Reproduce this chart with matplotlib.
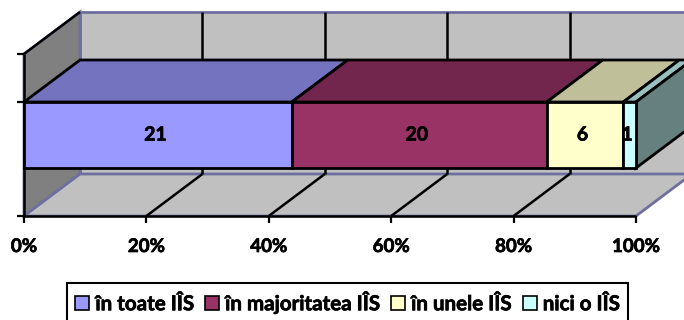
# -*- coding: utf-8 -*-

import numpy as np
from matplotlib import pyplot as plt
from matplotlib import patheffects
from matplotlib.patches import Patch, Polygon

categories = ['în toate IÎS', 'în majoritatea IÎS', 'în unele IÎS', 'nici o IÎS']
values = [21, 20, 6, 1]
ticks_pct = [0, 20, 40, 60, 80, 100]

front_colors = ['#9999ff', '#993366', '#ffffcc', '#ccffff']
top_colors = ['#7373bf', '#73264d', '#bfbf99', '#99bfbf']
side_color = '#668080'
wall_edge = '#6f6f9f'

# oblique projection of the 3D box: x in percent, y and depth in chart units
PX = 6.12
DEPTH_X = 56 / PX
DEPTH_Y = 42
BOX_H = 162
BAR_Y0, BAR_Y1 = 48, 114

# thicken the bold face a little
HEAVY = [patheffects.withStroke(linewidth=0.5, foreground='black')]


def proj(x, y, d=0.0):
    return (x + d * DEPTH_X, y + d * DEPTH_Y)


def face(ax, pts, color, edge='black', lw=2.0, z=1):
    ax.add_patch(Polygon([proj(*p) for p in pts], closed=True, facecolor=color,
                         edgecolor=edge, linewidth=lw, joinstyle='miter', zorder=z))


def line(ax, p, q, color='black', lw=1.8, z=2):
    a, b = proj(*p), proj(*q)
    ax.plot([a[0], b[0]], [a[1], b[1]], color=color, lw=lw, zorder=z,
            solid_capstyle='butt')


fig = plt.figure(figsize=(6.84, 3.2), dpi=100)
ax = fig.add_axes([0, 0, 1, 1])
ax.set_xlim(-24 / PX, (684 - 24) / PX)
ax.set_ylim(-(320 - 216), 216)
ax.axis('off')

# walls and floor
face(ax, [(0, 0, 1), (100, 0, 1), (100, BOX_H, 1), (0, BOX_H, 1)], '#c0c0c0', wall_edge)
face(ax, [(0, 0, 0), (0, 0, 1), (0, BOX_H, 1), (0, BOX_H, 0)], '#808080', wall_edge)
face(ax, [(0, 0, 0), (100, 0, 0), (100, 0, 1), (0, 0, 1)], '#c0c0c0', wall_edge)

# gridlines
for t in ticks_pct[1:-1]:
    line(ax, (t, 0, 1), (t, BOX_H, 1))
    line(ax, (t, 0, 0), (t, 0, 1))
line(ax, (0, BOX_H, 0), (0, BOX_H, 1))

# axes
line(ax, (0, 0, 0), (100, 0, 0), z=3)
line(ax, (0, 0, 0), (0, BOX_H, 0), z=3)
for t in ticks_pct:
    a = proj(t, 0)
    ax.plot([a[0], a[0]], [a[1], a[1] - 7], color='black', lw=1.6, zorder=3,
            solid_capstyle='butt')
    ax.text(t, -30.5, '%d%%' % t, ha='center', va='center', fontsize=13.5,
            fontweight='bold', family='Lato', path_effects=HEAVY)
for y in [0, BAR_Y1, BOX_H]:
    ax.plot([-7 / PX, 0], [y, y], color='black', lw=1.6, zorder=3,
            solid_capstyle='butt')

# stacked bar
shares = 100 * np.array(values) / sum(values)
left = 0.0
for i, (v, s) in enumerate(zip(values, shares)):
    right = left + s
    face(ax, [(left, BAR_Y1, 0), (right, BAR_Y1, 0), (right, BAR_Y1, 1), (left, BAR_Y1, 1)],
         top_colors[i], z=4)
    face(ax, [(left, BAR_Y0, 0), (right, BAR_Y0, 0), (right, BAR_Y1, 0), (left, BAR_Y1, 0)],
         front_colors[i], z=5)
    ax.text(left + s / 2 - 0.4, (BAR_Y0 + BAR_Y1) / 2, str(v), ha='center', va='center',
            fontsize=14, fontweight='bold', family='Lato', zorder=7, path_effects=HEAVY)
    left = right
face(ax, [(100, BAR_Y0, 0), (100, BAR_Y0, 1), (100, BAR_Y1, 1), (100, BAR_Y1, 0)],
     side_color, z=4)

handles = [Patch(facecolor=c, edgecolor='black', linewidth=1.2) for c in front_colors]
leg = ax.legend(handles, categories, loc='center', ncol=4,
                bbox_to_anchor=(347.5 / 684, 1 - 302.5 / 320), frameon=True, fancybox=False,
                edgecolor='black', framealpha=1,
                prop={'family': 'Lato', 'weight': 'bold', 'size': 14.8},
                handlelength=0.68, handleheight=0.7, handletextpad=0.3, columnspacing=0.54,
                borderpad=0.4, borderaxespad=0)
leg.get_frame().set_linewidth(1.5)
leg.set_zorder(8)
for txt in leg.get_texts():
    txt.set_path_effects(HEAVY)

plt.savefig('out.png', dpi=100)
